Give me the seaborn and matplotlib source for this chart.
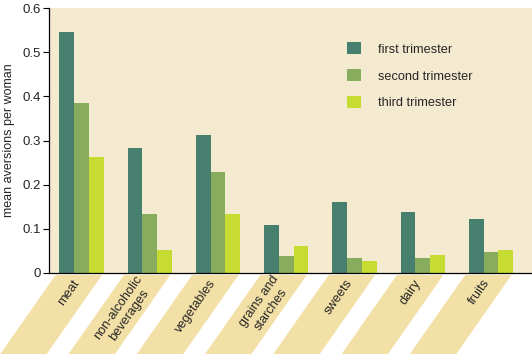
import pandas as pd
import seaborn as sns
import matplotlib.pyplot as plt
from matplotlib.patches import Polygon
import matplotlib.transforms as mtransforms

# 데이터
categories = ['meat', 'non-alcoholic\nbeverages', 'vegetables', 'grains and\nstarches',
              'sweets', 'dairy', 'fruits']
first = [0.546, 0.282, 0.313, 0.108, 0.161, 0.137, 0.122]
second = [0.384, 0.133, 0.228, 0.038, 0.034, 0.034, 0.047]
third = [0.262, 0.052, 0.134, 0.061, 0.026, 0.041, 0.052]
series = ['first trimester', 'second trimester', 'third trimester']
colors = ['#467f6d', '#87ac5e', '#c7dc33']

rows = []
for name, vals in zip(series, [first, second, third]):
    for cat, v in zip(categories, vals):
        rows.append({'category': cat, 'trimester': name, 'value': v})
df = pd.DataFrame(rows)

sns.set_style('ticks')
plt.rcParams['font.family'] = ['Liberation Sans', 'DejaVu Sans']

fig = plt.figure(figsize=(5.32, 3.54), dpi=100)
ax = fig.add_axes([0.092, 0.229, 0.908, 0.748])
ax.set_facecolor('#f4eacf')

sns.barplot(data=df, x='category', y='value', hue='trimester', palette=colors,
            width=0.65, gap=0, saturation=1, linewidth=0, ax=ax, legend=True)

ax.set_xlim(-0.477, 6.6)
ax.set_ylim(0, 0.6)
ax.set_yticks([0, 0.1, 0.2, 0.3, 0.4, 0.5, 0.6])
ax.set_yticklabels(['0', '0.1', '0.2', '0.3', '0.4', '0.5', '0.6'], fontsize=9.5)
ax.tick_params(axis='y', length=4, width=0.8, color='black', pad=2)
ax.tick_params(axis='x', length=0)
ax.set_xticklabels([])
ax.set_xlabel('')
ax.set_ylabel('mean aversions per woman', fontsize=9, labelpad=5)
for s in ['top', 'right']:
    ax.spines[s].set_visible(False)
for s in ['left', 'bottom']:
    ax.spines[s].set_color('black')
    ax.spines[s].set_linewidth(0.9)

# 기울어진 카테고리 띠
trans = mtransforms.blended_transform_factory(ax.transData, ax.transAxes)
for i, cat in enumerate(categories):
    c = i - 0.04
    top = -0.008
    bot = -0.31
    shift = 0.82
    poly = Polygon([[c - 0.34, top], [c + 0.34, top],
                    [c + 0.34 - shift, bot], [c - 0.34 - shift, bot]],
                   closed=True, transform=trans, facecolor='#f3e0a6',
                   edgecolor='none', clip_on=False, zorder=0)
    ax.add_patch(poly)
    ax.text(i - 0.06, -0.03, cat, transform=trans, rotation=55,
            rotation_mode='anchor', ha='right', va='center',
            multialignment='center', fontsize=9.2, clip_on=False)

leg = ax.legend(loc='upper left', bbox_to_anchor=(0.594, 0.915), frameon=False,
                fontsize=9.2, handlelength=1.1, handleheight=1.1,
                labelspacing=1.05, handletextpad=1.3)

plt.savefig('out.png', dpi=100)
